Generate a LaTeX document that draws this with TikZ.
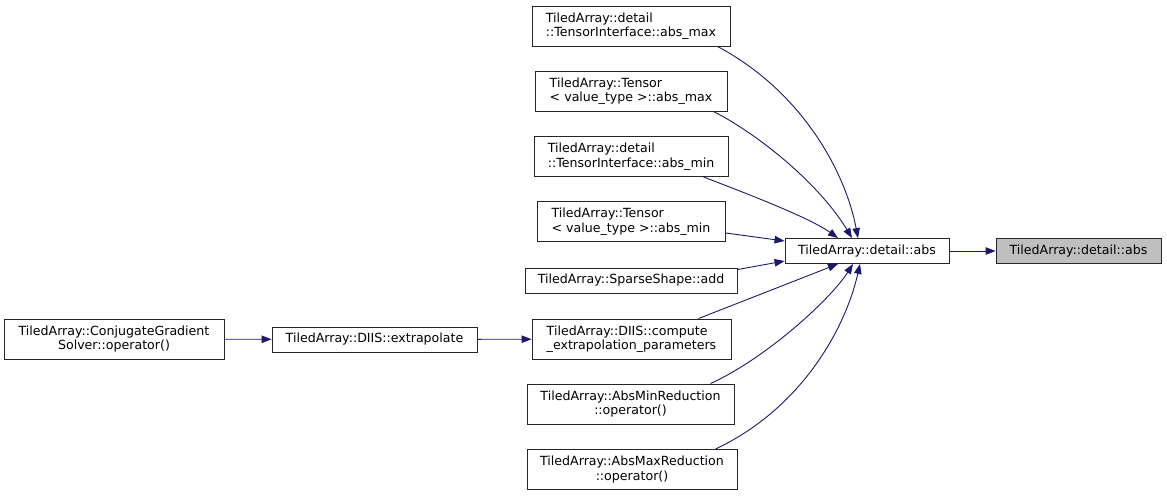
\documentclass[tikz,border=0pt]{standalone}
\usepackage{fontspec}
\setmainfont{DejaVu Sans}
\usetikzlibrary{arrows.meta}
\definecolor{edgeblue}{HTML}{191970}
\definecolor{nodegray}{HTML}{BFBFBF}
\begin{document}
\begin{tikzpicture}[x=1pt,y=-1pt,
  box/.style={draw=black!85,line width=0.9pt,fill=white,inner sep=0pt,
    font=\fontsize{12.6}{14.5}\selectfont,align=center,minimum height=25pt},
  twoline/.style={minimum height=40pt},
  lbox/.style={align=left},
  edge/.style={draw=edgeblue,line width=0.9pt,
    -{Triangle[length=10pt,width=7.5pt]},color=edgeblue}]
\useasboundingbox (0,0) rectangle (1167,496);
% nodes
\node[box,fill=nodegray,minimum width=165pt] (A) at (1078.5,251) {TiledArray::detail::abs};
\node[box,minimum width=164pt] (B) at (867,251) {TiledArray::detail::abs};
\node[box,twoline,lbox,minimum width=198pt] (n1) at (631,26) {TiledArray::detail\\::TensorInterface::abs\_max};
\node[box,twoline,lbox,minimum width=192pt] (n2) at (631,91) {TiledArray::Tensor\\\textless{} value\_type \textgreater::abs\_max};
\node[box,twoline,lbox,minimum width=194pt] (n3) at (631,156.5) {TiledArray::detail\\::TensorInterface::abs\_min};
\node[box,twoline,lbox,minimum width=188pt] (n4) at (631,221.5) {TiledArray::Tensor\\\textless{} value\_type \textgreater::abs\_min};
\node[box,minimum width=212pt] (n5) at (631,280.5) {TiledArray::SparseShape::add};
\node[box,twoline,lbox,minimum width=199pt] (n6) at (631.5,339) {TiledArray::DIIS::compute\\\_extrapolation\_parameters};
\node[box,twoline,minimum width=207pt] (n7) at (630.5,404) {TiledArray::AbsMinReduction\\::operator()};
\node[box,twoline,minimum width=210pt] (n8) at (632,469.5) {TiledArray::AbsMaxReduction\\::operator()};
\node[box,twoline,minimum width=220pt] (cg) at (114,339) {TiledArray::ConjugateGradient\\Solver::operator()};
\node[box,minimum width=205pt] (ex) at (374.5,339.5) {TiledArray::DIIS::extrapolate};
% edges
\draw[edge] (B) -- (A);
\draw[edge] (cg) -- (ex);
\draw[edge] (ex) -- (n6);
\draw[edge] (n1.south east) ++(-13,0) .. controls +(83,44) and (845,170) .. ([xshift=-9pt]B.north);
\draw[edge] (n2.south east) ++(-14,0) .. controls +(47,24) and (820,185) .. ([xshift=-15pt]B.north);
\draw[edge] (n3.south east) ++(-25,0) .. controls +(47,18) and (810,218) .. ([xshift=-29pt]B.north);
\draw[edge] ([yshift=9pt]n4.south east) -- ([yshift=10pt]B.west);
\draw[edge] ([yshift=-2pt]n5.north east) -- ([yshift=-10pt]B.west);
\draw[edge] ([xshift=-33pt]n6.north east) -- ([xshift=-29pt]B.south);
\draw[edge] ([xshift=-24pt]n7.north east) .. controls +(55,-25) and (830,300) .. ([xshift=-14pt]B.south);
\draw[edge] ([xshift=-22pt]n8.north east) .. controls +(85,-40) and (845,330) .. ([xshift=-7pt]B.south);
\end{tikzpicture}
\end{document}
